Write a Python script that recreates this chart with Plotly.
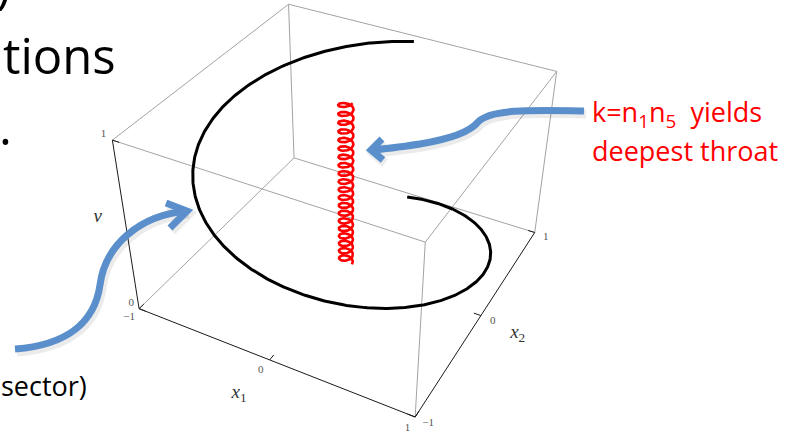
import re
import numpy as np
import plotly.graph_objects as go

W, H = 798, 432

# box limits in data space
x1_lim = (-1.0, 1.0)
x2_lim = (-1.0, 1.0)
v_lim = (0.0, 1.0)

x1_ticks = [-1, 0, 1]
x2_ticks = [-1, 0, 1]
v_ticks = [0, 1]
tick_names = {-1: "\u22121", 0: "0", 1: "1"}

# single-turn spiral (black)
spiral_radius = 0.97
spiral_angle = (90.0, 450.0)      # degrees
spiral_height = (0.98, -0.01)

# tight helix on the axis (red)
helix_center = (0.0, 0.0)
helix_radius = 0.047
helix_turns = 20
helix_height = (0.045, 1.015)

# perspective camera: homogeneous map (x1, x2, v, 1) -> page pixels
CAMERA = np.array([
    [111.3694, 101.7697, -37.77247, 345.9054],
    [31.23918, -57.01897, -176.1892, 268.843],
    [-0.04912056, 0.09459169, -0.1091602, 1.0],
])


def proj(x1, x2, v):
    x1 = np.atleast_1d(np.asarray(x1, float))
    x2 = np.atleast_1d(np.asarray(x2, float))
    v = np.atleast_1d(np.asarray(v, float))
    q = CAMERA @ np.vstack([x1, x2, v, np.ones_like(x1)])
    return q[0] / q[2], q[1] / q[2]


def segs(pairs):
    xs, ys = [], []
    for a, b in pairs:
        px, py = proj([a[0], b[0]], [a[1], b[1]], [a[2], b[2]])
        xs += list(px) + [None]
        ys += list(py) + [None]
    return xs, ys


a0, a1 = x1_lim
b0, b1 = x2_lim
c0, c1 = v_lim
gray_edges = [
    ((a0, b0, c1), (a0, b1, c1)), ((a0, b1, c1), (a1, b1, c1)),
    ((a1, b1, c1), (a1, b0, c1)), ((a1, b0, c1), (a0, b0, c1)),
    ((a0, b1, c0), (a0, b1, c1)), ((a1, b1, c0), (a1, b1, c1)),
    ((a1, b0, c0), (a1, b0, c1)),
    ((a0, b0, c0), (a0, b1, c0)), ((a0, b1, c0), (a1, b1, c0)),
]
black_edges = [
    ((a0, b0, c0), (a0, b0, c1)),
    ((a0, b0, c0), (a1, b0, c0)),
    ((a1, b0, c0), (a1, b1, c0)),
]
tl = 0.05
tick_segs = ([((t, b0, c0), (t, b0 + tl, c0)) for t in x1_ticks]
             + [((a1, t, c0), (a1 - tl, t, c0)) for t in x2_ticks]
             + [((a0, b0, t), (a0 + tl, b0, t)) for t in v_ticks])

fig = go.Figure()
gx, gy = segs(gray_edges)
fig.add_trace(go.Scatter(x=gx, y=gy, mode="lines",
                         line=dict(color="#a3a3a3", width=1)))
bx, by = segs(black_edges + tick_segs)
fig.add_trace(go.Scatter(x=bx, y=by, mode="lines",
                         line=dict(color="#1a1a1a", width=1)))

th = np.radians(np.linspace(spiral_angle[0], spiral_angle[1], 500))
sv = np.linspace(spiral_height[0], spiral_height[1], th.size)
sx, sy = proj(spiral_radius * np.cos(th), spiral_radius * np.sin(th), sv)
fig.add_trace(go.Scatter(x=sx, y=sy, mode="lines",
                         line=dict(color="black", width=3)))

ht = np.linspace(0, 2 * np.pi * helix_turns, helix_turns * 60)
hv = np.linspace(helix_height[0], helix_height[1], ht.size)
hx, hy = proj(helix_center[0] + helix_radius * np.cos(ht),
              helix_center[1] + helix_radius * np.sin(ht), hv)
fig.add_trace(go.Scatter(x=hx, y=hy, mode="lines",
                         line=dict(color="#ff0000", width=2.6)))

tick_font = dict(family="Liberation Serif, Times New Roman, serif",
                 size=11, color="#555555")
lab = []
for t in x1_ticks:
    lab.append((t, b0 - 0.105, c0 + 0.005, tick_names[t]))
for t in x2_ticks:
    lab.append((a1 + 0.085, t, c0 - 0.01, tick_names[t]))
for t in v_ticks:
    lab.append((a0 - 0.06, b0, t + 0.018, tick_names[t]))
lx, ly = proj([l[0] for l in lab], [l[1] for l in lab], [l[2] for l in lab])
fig.add_trace(go.Scatter(x=lx, y=ly, mode="text", text=[l[3] for l in lab],
                         textposition="middle center", textfont=tick_font))

axis_font = dict(family="Liberation Serif, Times New Roman, serif",
                 size=19, color="#333333")
alx, aly = proj([0.01, a1 + 0.26, a0 - 0.22], [b0 - 0.36, 0.0, b0],
                [c0 + 0.03, c0 - 0.03, 0.51])
fig.add_trace(go.Scatter(x=alx, y=aly, mode="text",
                         text=["<i>x</i><sub>1</sub>", "<i>x</i><sub>2</sub>",
                               "<i>v</i>"],
                         textposition="middle center", textfont=axis_font))

# callout arrows (page pixels), with a faint drop shadow
blue = "#5b8fcb"
arrow_paths = [
    "M 584,111 C 530,110 490,109 478,122 C 470,132 450,139 420,144 "
    "C 400,147 385,149 372,150",
    "M 382,139 L 371,150 L 383,160",
    "M 15,349 C 70,345 95,320 100,285 C 105,245 140,215 187,211",
    "M 166,203 L 187,211 L 170,228",
]


def shifted(path, dx, dy):
    return re.sub(r"(-?\d+\.?\d*),(-?\d+\.?\d*)",
                  lambda m: f"{float(m.group(1)) + dx},{float(m.group(2)) + dy}",
                  path)


shapes = [dict(type="path", path=shifted(pth, 2, 3), xref="x", yref="y",
               line=dict(color="rgba(0,0,0,0.08)", width=9), layer="above")
          for pth in arrow_paths]
shapes += [dict(type="path", path=pth, xref="x", yref="y",
                line=dict(color=blue, width=7), layer="above")
           for pth in arrow_paths]

ann = [
    dict(x=1, y=55, text="tions", xanchor="left", yanchor="middle",
         font=dict(family="Open Sans", size=49, color="black")),
    dict(x=14, y=126, text=".", xanchor="right", yanchor="middle",
         font=dict(family="Open Sans", size=49, color="black")),
    dict(x=89, y=385, text="sector)", xanchor="right", yanchor="middle",
         font=dict(family="Open Sans", size=27, color="black")),
    dict(x=590, y=113, text="k=n<sub>1</sub>n<sub>5</sub>\u00a0\u00a0yields",
         xanchor="left", yanchor="middle",
         font=dict(family="Open Sans", size=27, color="#ff0000")),
    dict(x=590, y=150, text="deepest throat", xanchor="left", yanchor="middle",
         font=dict(family="Open Sans", size=27, color="#ff0000")),
]
for a in ann:
    a.update(xref="x", yref="y", showarrow=False)
# end of a line above, cut by the top edge
ann.append(dict(x=12 / W, y=1 + 16 / H, xref="paper", yref="paper",
                text=")", xanchor="right", yanchor="middle", showarrow=False,
                font=dict(family="Open Sans", size=49, color="black")))

fig.update_layout(
    width=W, height=H, autosize=False,
    margin=dict(l=0, r=0, t=0, b=0, pad=0),
    paper_bgcolor="white", plot_bgcolor="white",
    showlegend=False,
    xaxis=dict(range=[0, W], visible=False, fixedrange=True),
    yaxis=dict(range=[H, 0], visible=False, fixedrange=True),
    shapes=shapes, annotations=ann,
)
fig.write_html("out.html")
